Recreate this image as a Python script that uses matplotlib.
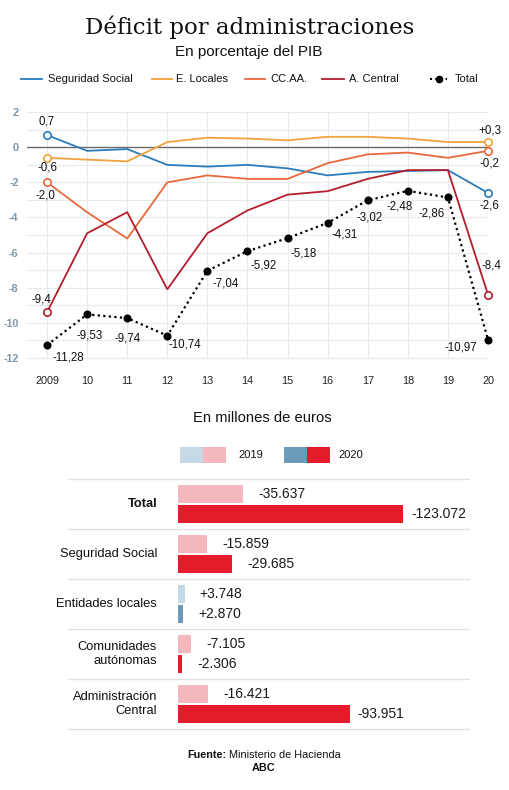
import matplotlib
matplotlib.use("Agg")
import matplotlib.pyplot as plt
from matplotlib.patches import Rectangle
from matplotlib.lines import Line2D

plt.rcParams['font.family'] = ['Liberation Sans', 'DejaVu Sans']

# ---------------- data ----------------
years = [2009, 2010, 2011, 2012, 2013, 2014, 2015, 2016, 2017, 2018, 2019, 2020]
year_labels = ['2009', '10', '11', '12', '13', '14', '15', '16', '17', '18', '19', '20']
seguridad_social = [0.7, -0.2, -0.1, -1.0, -1.1, -1.0, -1.2, -1.6, -1.4, -1.35, -1.3, -2.6]
e_locales = [-0.6, -0.7, -0.8, 0.3, 0.55, 0.5, 0.4, 0.6, 0.6, 0.5, 0.3, 0.3]
ccaa = [-2.0, -3.7, -5.2, -2.0, -1.6, -1.8, -1.8, -0.9, -0.4, -0.3, -0.6, -0.2]
a_central = [-9.4, -4.9, -3.7, -8.1, -4.9, -3.6, -2.7, -2.5, -1.8, -1.3, -1.3, -8.4]
total = [-11.28, -9.53, -9.74, -10.74, -7.04, -5.92, -5.18, -4.31, -3.02, -2.48, -2.86, -10.97]
yticks = [2, 0, -2, -4, -6, -8, -10, -12]

groups = ['Total', 'Seguridad Social', 'Entidades locales', 'Comunidades\nautónomas',
          'Administración\nCentral']
v2019 = [-35637, -15859, 3748, -7105, -16421]
v2020 = [-123072, -29685, 2870, -2306, -93951]

# ---------------- style ----------------
C_SS = '#2b7bba'
C_EL = '#f0a33c'
C_CA = '#e8693c'
C_AC = '#b31d2c'
GRID = '#e6ebf0'
PINK, RED = '#f5b8bf', '#e31b2b'
LBLUE, DBLUE = '#c5d8e6', '#6b9bb8'

W, H = 510, 790
fig = plt.figure(figsize=(W / 100, H / 100), dpi=100)


def fx(px):
    return px / W


def fy(py):
    return 1 - py / H


# ---------------- line chart ----------------
top_px, bot_px, left_px, right_px = 107.0, 363.0, 27.0, 488.0
ax = fig.add_axes([fx(left_px), fy(bot_px), fx(right_px - left_px), (bot_px - top_px) / H])
ax.set_xlim(2008.5, 2020)
ax.set_ylim(-12.3, 2.3)
for s in ax.spines.values():
    s.set_visible(False)
for y in range(-12, 3):
    ax.axhline(y, color=GRID, lw=0.8, zorder=0)
for x in years:
    ax.plot([x, x], [-12, 2], color=GRID, lw=0.8, zorder=0)
ax.axhline(0, color='#6b6b6b', lw=1.0, zorder=1, xmin=0, xmax=1)

ax.set_xticks(years)
ax.set_xticklabels(year_labels, fontsize=7.8, color='#222222')
ax.set_yticks(yticks)
ax.set_yticklabels([str(v) for v in yticks], fontsize=7.8, color='#7f97a9', fontweight='bold')
ax.tick_params(axis='both', length=0)
ax.tick_params(axis='x', pad=9)
ax.tick_params(axis='y', pad=6)

series = [(seguridad_social, C_SS), (e_locales, C_EL), (ccaa, C_CA), (a_central, C_AC)]
for vals, col in series:
    ax.plot(years, vals, color=col, lw=1.3, zorder=3, solid_joinstyle='miter')
    ax.plot([years[0], years[-1]], [vals[0], vals[-1]], ls='none', marker='o', ms=5.3,
            mfc='white', mec=col, mew=1.2, zorder=4, clip_on=False)

ax.plot(years, total, color='black', lw=1.6, ls=(0, (1, 1.5)), marker='o', ms=4.8,
        mfc='black', mec='black', zorder=5, clip_on=False)


def fmt(v, dec, plus=False):
    s = f"{v:.{dec}f}".replace('.', ',')
    if plus and v > 0:
        s = '+' + s
    return s


# total labels offsets (px, down positive)
tot_off = [(21, 12), (2, 21), (0, 20), (18, 9), (18, 13), (16, 14), (16, 15), (17, 12),
           (2, 17), (-8, 16), (-16, 16), (-27, 8)]
for x, v, (dx, dy) in zip(years, total, tot_off):
    ax.annotate(fmt(v, 2), (x, v), xytext=(dx, -dy), textcoords='offset pixels',
                ha='center', va='center', fontsize=8.3, color='#111111', zorder=6)

end_labels = [
    (seguridad_social, 0, (0, -14)),
    (e_locales, 0, (0, 10)),
    (ccaa, 0, (-2, 13)),
    (a_central, 0, (-6, -13)),
    (e_locales, -1, (2, -12)),
    (ccaa, -1, (1, 13)),
    (seguridad_social, -1, (1, 13)),
    (a_central, -1, (3, -29)),
]
for vals, i, (dx, dy) in end_labels:
    ax.annotate(fmt(vals[i], 1, plus=(i == -1)), (years[i], vals[i]), xytext=(dx, -dy),
                textcoords='offset pixels', ha='center', va='center', fontsize=8.3,
                color='#111111', zorder=6)

# ---------------- bar chart ----------------
scale = 1.828  # px per thousand
bx0, bx1 = 68.0, 470.0
zero_px = 178.0
btop, bbot = 474.0, 734.0
bax = fig.add_axes([fx(bx0), fy(bbot), fx(bx1 - bx0), (bbot - btop) / H])
bax.set_xlim(-(zero_px - bx0) / scale, (bx1 - zero_px) / scale)
bax.set_ylim(4.6, -0.6)
bax.axis('off')

for i in range(6):
    bax.axhline(i - 0.5, color='#e2e2e2', lw=1.0, zorder=0)

bh = 0.36
for i, (a, b) in enumerate(zip(v2019, v2020)):
    for val, off, cneg, cpos in [(a, -0.2, PINK, LBLUE), (b, 0.2, RED, DBLUE)]:
        length = abs(val) / 1000
        bax.barh(i + off, length, height=bh, color=cneg if val < 0 else cpos, zorder=2)
        txt = f"{abs(val):,}".replace(',', '.')
        txt = ('-' if val < 0 else '+') + txt
        pad = 8 if length > 80 else 15
        bax.annotate(txt, (length, i + off), xytext=(pad, 0), textcoords='offset pixels',
                     ha='left', va='center', fontsize=10, color='#1a1a1a')
    bax.annotate(groups[i], (0, i), xytext=(-21, 0), textcoords='offset pixels',
                 ha='right', va='center', fontsize=9.3, color='#111111',
                 fontweight='bold' if i == 0 else 'normal', linespacing=1.3)

# ---------------- overlay texts ----------------
ov = fig.add_axes([0, 0, 1, 1])
ov.set_xlim(0, W)
ov.set_ylim(H, 0)
ov.axis('off')
ov.patch.set_alpha(0)

ov.text(250, 27, 'Déficit por administraciones', family='DejaVu Serif', fontsize=16.5,
        ha='center', va='center', color='#111111')
ov.text(249, 52, 'En porcentaje del PIB', fontsize=11, ha='center', va='center', color='#111111')

leg = [('Seguridad Social', C_SS, 21, 42, 48), ('E. Locales', C_EL, 152, 172, 176),
       ('CC.AA.', C_CA, 245, 265, 270), ('A. Central', C_AC, 322, 344, 349)]
for lab, col, x0, x1, tx in leg:
    ov.add_line(Line2D([x0, x1], [79, 79], color=col, lw=1.3))
    ov.text(tx, 79, lab, fontsize=8, ha='left', va='center', color='#111111')
ov.add_line(Line2D([430, 447], [79, 79], color='black', lw=1.5, ls=(0, (1, 1.5))))
ov.plot([439], [79], 'o', color='black', ms=4.5)
ov.text(455, 79, 'Total', fontsize=8, ha='left', va='center', color='#111111')

ov.text(262, 418, 'En millones de euros', fontsize=10.6, ha='center', va='center', color='#111111')
ov.add_patch(Rectangle((180, 447), 23, 16, color=LBLUE, lw=0))
ov.add_patch(Rectangle((203, 447), 23, 16, color=PINK, lw=0))
ov.text(238, 455, '2019', fontsize=8, ha='left', va='center', color='#111111')
ov.add_patch(Rectangle((284, 447), 23, 16, color=DBLUE, lw=0))
ov.add_patch(Rectangle((307, 447), 23, 16, color=RED, lw=0))
ov.text(338, 455, '2020', fontsize=8, ha='left', va='center', color='#111111')

t1 = ov.text(187, 755, 'Fuente:', fontsize=7.8, fontweight='bold', ha='left', va='center',
             color='#111111')
fig.canvas.draw()
bb = t1.get_window_extent()
x_end = bb.x1  # display pixels (same as image px horizontally)
ov.text(x_end + 3, 755, 'Ministerio de Hacienda', fontsize=7.8, ha='left', va='center',
        color='#111111')
ov.text(264, 768, 'ABC', fontsize=7.8, fontweight='bold', ha='center', va='center', color='#111111')

fig.savefig('out.png', dpi=100, facecolor='white')
